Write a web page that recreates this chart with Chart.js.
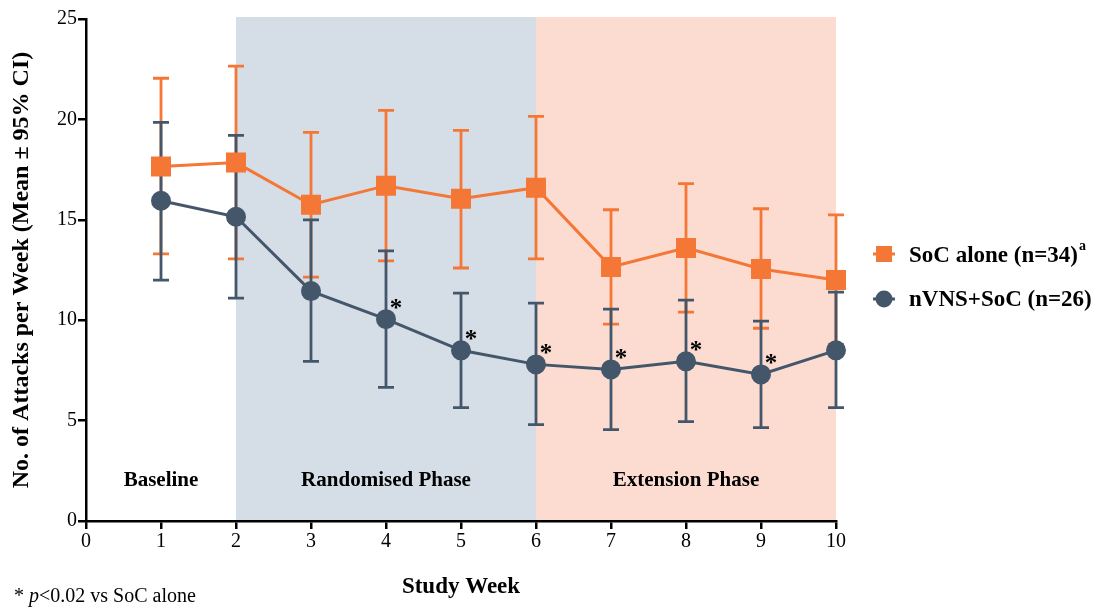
<!DOCTYPE html>
<html>
<head>
<meta charset="utf-8">
<script src="https://cdn.jsdelivr.net/npm/chart.js@4"></script>
<style>
  html, body { margin: 0; padding: 0; background: #fff; }
  #wrap { width: 1102px; height: 607px; position: relative; }
</style>
</head>
<body>
<div id="wrap"><canvas id="myChart" width="1102" height="607"></canvas></div>
<script>
const weeks = [1, 2, 3, 4, 5, 6, 7, 8, 9, 10];

const socMean = [17.65, 17.85, 15.75, 16.7, 16.05, 16.6, 12.65, 13.6, 12.55, 12.0];
const socLow = [13.3, 13.05, 12.15, 12.95, 12.6, 13.05, 9.8, 10.4, 9.6, 8.8];
const socHigh = [22.05, 22.65, 19.35, 20.45, 19.45, 20.15, 15.5, 16.8, 15.55, 15.25];

const nvnsMean = [15.95, 15.15, 11.45, 10.05, 8.5, 7.8, 7.55, 7.95, 7.3, 8.5];
const nvnsLow = [12.0, 11.1, 7.95, 6.65, 5.65, 4.8, 4.55, 4.95, 4.65, 5.65];
const nvnsHigh = [19.85, 19.2, 15.0, 13.45, 11.35, 10.85, 10.55, 11.0, 9.95, 11.4];

// weeks with p<0.02
const sigWeeks = [4, 5, 6, 7, 8, 9];

const phases = [
  { label: "Baseline", from: 0, to: 2, mid: 1, color: null },
  { label: "Randomised Phase", from: 2, to: 6, mid: 4, color: "#d5dde6" },
  { label: "Extension Phase", from: 6, to: 10, mid: 8, color: "#fcdcd0" },
];

const ORANGE = "#f47735";
const SLATE = "#44576a";
const SERIF = "'Liberation Serif', 'Times New Roman', serif";

const toXY = (xs, ys) => xs.map((x, i) => ({ x: x, y: ys[i] }));

const phasePlugin = {
  id: "phases",
  beforeDraw(chart) {
    const { ctx, chartArea, scales } = chart;
    const x = scales.x;
    ctx.save();
    phases.forEach((p) => {
      if (p.color) {
        ctx.fillStyle = p.color;
        const x0 = x.getPixelForValue(p.from);
        const x1 = x.getPixelForValue(p.to);
        ctx.fillRect(x0, chartArea.top - 2, x1 - x0, chartArea.bottom - chartArea.top + 2);
      }
    });
    ctx.restore();
  },
  beforeDatasetsDraw(chart) {
    const { ctx, scales } = chart;
    const x = scales.x, y = scales.y;
    ctx.save();
    phases.forEach((p) => {
      ctx.fillStyle = "#000";
      ctx.font = "bold 21px " + SERIF;
      ctx.textAlign = "center";
      ctx.textBaseline = "middle";
      ctx.fillText(p.label, x.getPixelForValue(p.mid), y.getPixelForValue(2));
    });

    // error bars
    const bars = [
      { lo: socLow, hi: socHigh, color: ORANGE },
      { lo: nvnsLow, hi: nvnsHigh, color: SLATE },
    ];
    bars.forEach((b) => {
      ctx.strokeStyle = b.color;
      ctx.lineWidth = 2.8;
      weeks.forEach((w, i) => {
        const px = x.getPixelForValue(w);
        const y0 = y.getPixelForValue(b.lo[i]);
        const y1 = y.getPixelForValue(b.hi[i]);
        ctx.beginPath();
        ctx.moveTo(px, y0);
        ctx.lineTo(px, y1);
        ctx.moveTo(px - 8, y0);
        ctx.lineTo(px + 8, y0);
        ctx.moveTo(px - 8, y1);
        ctx.lineTo(px + 8, y1);
        ctx.stroke();
      });
    });
    ctx.restore();
  },
  afterDatasetsDraw(chart) {
    const { ctx, scales } = chart;
    const x = scales.x, y = scales.y;
    ctx.save();
    ctx.fillStyle = "#000";
    ctx.font = "bold 25px " + SERIF;
    ctx.textAlign = "center";
    ctx.textBaseline = "middle";
    sigWeeks.forEach((w) => {
      const i = weeks.indexOf(w);
      ctx.fillText("*", x.getPixelForValue(w) + 10, y.getPixelForValue(nvnsMean[i]) - 10);
    });
    ctx.restore();
  },
  afterDraw(chart) {
    const { ctx } = chart;
    ctx.save();
    // legend
    ctx.lineWidth = 3;
    ctx.strokeStyle = ORANGE;
    ctx.beginPath(); ctx.moveTo(873, 254); ctx.lineTo(895, 254); ctx.stroke();
    ctx.fillStyle = ORANGE;
    ctx.fillRect(876, 246, 16, 16);
    ctx.strokeStyle = SLATE;
    ctx.beginPath(); ctx.moveTo(873, 299); ctx.lineTo(895, 299); ctx.stroke();
    ctx.fillStyle = SLATE;
    ctx.beginPath(); ctx.arc(884, 299, 8.5, 0, Math.PI * 2); ctx.fill();

    ctx.fillStyle = "#000";
    ctx.textAlign = "left";
    ctx.textBaseline = "middle";
    ctx.font = "bold 23px " + SERIF;
    const t1 = "SoC alone (n=34)";
    ctx.fillText(t1, 909, 256);
    const w1 = ctx.measureText(t1).width;
    ctx.font = "bold 14px " + SERIF;
    ctx.fillText("a", 909 + w1 + 1, 246);
    ctx.font = "bold 23px " + SERIF;
    ctx.fillText("nVNS+SoC (n=26)", 909, 300);

    // footnote
    ctx.font = "20px " + SERIF;
    let fx = 14;
    ctx.fillText("* ", fx, 597);
    fx += ctx.measureText("* ").width;
    ctx.font = "italic 20px " + SERIF;
    ctx.fillText("p", fx, 597);
    fx += ctx.measureText("p").width;
    ctx.font = "20px " + SERIF;
    ctx.fillText("<0.02 vs SoC alone", fx, 597);
    ctx.restore();
  },
};

let ctx = null;
let curChart = null;

const init = () => {
  ctx = document.getElementById("myChart").getContext("2d");

  curChart = new Chart(ctx, {
    type: "scatter",
    data: {
      datasets: [
        {
          label: "SoC alone (n=34)",
          data: toXY(weeks, socMean),
          showLine: true,
          clip: false,
          borderColor: ORANGE,
          backgroundColor: ORANGE,
          borderWidth: 3,
          pointStyle: "rect",
          pointRadius: 12,
          pointHoverRadius: 12,
          order: 2,
        },
        {
          label: "nVNS+SoC (n=26)",
          data: toXY(weeks, nvnsMean),
          showLine: true,
          clip: false,
          borderColor: SLATE,
          backgroundColor: SLATE,
          borderWidth: 3,
          pointStyle: "circle",
          pointRadius: 8.5,
          pointHoverRadius: 8.5,
          order: 1,
        },
      ],
    },
    options: {
      responsive: false,
      animation: false,
      devicePixelRatio: 1,
      layout: { padding: { top: 19, right: 266, left: 0, bottom: 0 } },
      plugins: { legend: { display: false }, tooltip: { enabled: false } },
      scales: {
        x: {
          type: "linear",
          min: 0,
          max: 10,
          afterFit: (s) => { s.height = 86; },
          ticks: { stepSize: 1, color: "#000", font: { family: SERIF, size: 20 }, padding: 1 },
          grid: { display: true, drawOnChartArea: false, drawTicks: true, tickLength: 8, color: "#000", lineWidth: 2.5 },
          border: { display: true, color: "#000", width: 2.5 },
          title: { display: true, text: "Study Week", color: "#000", font: { family: SERIF, size: 23, weight: "bold" }, padding: { top: 10, bottom: 6 } },
        },
        y: {
          min: 0,
          max: 25,
          afterFit: (s) => { s.width = 86; },
          ticks: { stepSize: 5, color: "#000", font: { family: SERIF, size: 20 }, padding: 1 },
          grid: { display: true, drawOnChartArea: false, drawTicks: true, tickLength: 8, color: "#000", lineWidth: 2.5 },
          border: { display: true, color: "#000", width: 2.5 },
          title: { display: true, text: "No. of Attacks per Week (Mean ± 95% CI)", color: "#000", font: { family: SERIF, size: 24, weight: "bold" }, padding: { top: 7 } },
        },
      },
    },
    plugins: [phasePlugin],
  });
};

window.addEventListener("load", init);
</script>
</body>
</html>
